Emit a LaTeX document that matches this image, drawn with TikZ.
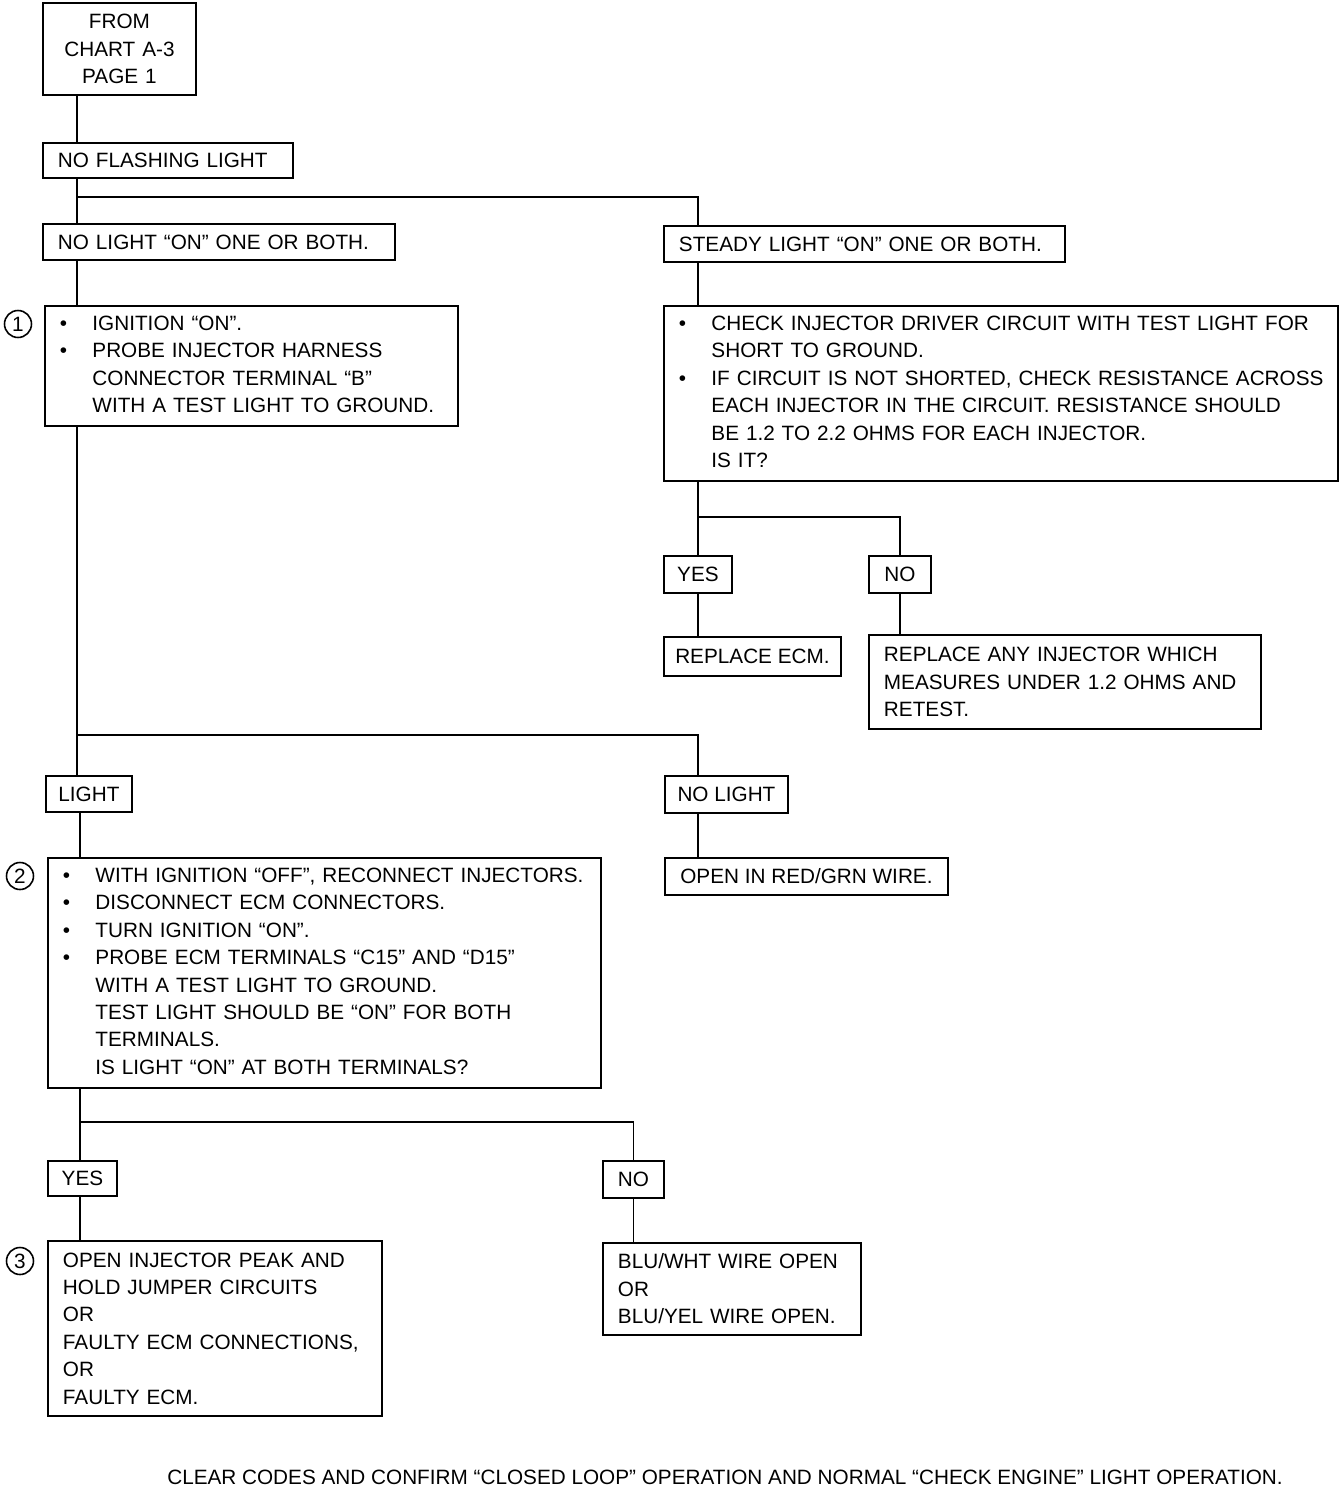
\documentclass[tikz,border=0pt]{standalone}
\usepackage{fontspec}
\setmainfont{Liberation Sans}
\newcommand{\ckSteps}[1]{\begin{tabular}{@{}p{0.65cm}@{}l@{}}#1\end{tabular}}
\tikzset{
  ckBox/.style={
    draw, line width=1.1pt, anchor=north west, inner xsep=0.3cm, inner ysep=0pt,
    align=left, font=\fontsize{11.8}{15.6}\selectfont
  },
  ckTag/.style={ckBox, align=center, inner xsep=0pt},
  ckNum/.style={
    circle, draw, line width=0.9pt, inner sep=0pt, minimum size=0.54cm,
    font=\fontsize{11.8}{14}\selectfont
  },
  ckLink/.style={line width=1pt}
}
\begin{document}
\begin{tikzpicture}[x=0.02cm, y=-0.02cm]
  \useasboundingbox (0,0) rectangle (1344,1490);

  % left column
  \node[ckBox, align=center, text width=2.46cm, minimum height=1.84cm] (from) at (42,2) {FROM\\CHART A-3\\PAGE 1};
  \node[ckBox, text width=4.40cm, minimum height=0.70cm] (noflash) at (42,142) {NO FLASHING LIGHT};
  \node[ckBox, text width=6.44cm, minimum height=0.72cm] (nolight) at (42,223) {NO LIGHT “ON” ONE OR BOTH.};
  \node[ckBox, text width=7.66cm, minimum height=2.40cm] (chk1) at (44,305) {\ckSteps{
    \textbullet & IGNITION “ON”.\\
    \textbullet & PROBE INJECTOR HARNESS\\
    & CONNECTOR TERMINAL “B”\\
    & WITH A TEST LIGHT TO GROUND.}};
  \node[ckTag, minimum width=1.72cm, minimum height=0.72cm] (light) at (45,775) {LIGHT};
  \node[ckBox, text width=10.46cm, minimum height=4.60cm] (chk2) at (47,857) {\ckSteps{
    \textbullet & WITH IGNITION “OFF”, RECONNECT INJECTORS.\\
    \textbullet & DISCONNECT ECM CONNECTORS.\\
    \textbullet & TURN IGNITION “ON”.\\
    \textbullet & PROBE ECM TERMINALS “C15” AND “D15”\\
    & WITH A TEST LIGHT TO GROUND.\\
    & TEST LIGHT SHOULD BE “ON” FOR BOTH\\
    & TERMINALS.\\
    & IS LIGHT “ON” AT BOTH TERMINALS?}};
  \node[ckTag, minimum width=1.38cm, minimum height=0.70cm] (yes2) at (47,1160) {YES};
  \node[ckTag, minimum width=1.22cm, minimum height=0.74cm] (no2) at (602,1160) {NO};
  \node[ckBox, text width=6.08cm, minimum height=3.50cm] (res3) at (47,1240) {OPEN INJECTOR PEAK AND\\HOLD JUMPER CIRCUITS\\OR\\FAULTY ECM CONNECTIONS,\\OR\\FAULTY ECM.};
  \node[ckBox, text width=4.56cm, minimum height=1.84cm] (bluw) at (602,1242) {BLU/WHT WIRE OPEN\\OR\\BLU/YEL WIRE OPEN.};

  % right column
  \node[ckBox, text width=7.42cm, minimum height=0.72cm] (steady) at (663,225) {STEADY LIGHT “ON” ONE OR BOTH.};
  \node[ckBox, text width=12.88cm, minimum height=3.50cm] (chkr) at (663,305) {\ckSteps{
    \textbullet & CHECK INJECTOR DRIVER CIRCUIT WITH TEST LIGHT FOR\\
    & SHORT TO GROUND.\\
    \textbullet & IF CIRCUIT IS NOT SHORTED, CHECK RESISTANCE ACROSS\\
    & EACH INJECTOR IN THE CIRCUIT. RESISTANCE SHOULD\\
    & BE 1.2 TO 2.2 OHMS FOR EACH INJECTOR.\\
    & IS IT?}};
  \node[ckTag, minimum width=1.36cm, minimum height=0.74cm] (yes1) at (663,555) {YES};
  \node[ckTag, minimum width=1.24cm, minimum height=0.74cm] (no1) at (868,555) {NO};
  \node[ckTag, minimum width=3.54cm, minimum height=0.78cm] (repecm) at (663,636) {REPLACE ECM.};
  \node[ckBox, text width=7.24cm, minimum height=1.88cm] (repany) at (868,634) {REPLACE ANY INJECTOR WHICH\\MEASURES UNDER 1.2 OHMS AND\\RETEST.};
  \node[ckTag, minimum width=2.46cm, minimum height=0.74cm] (nolight2) at (664,775) {NO LIGHT};
  \node[ckTag, minimum width=5.66cm, minimum height=0.74cm] (openrg) at (664,857) {OPEN IN RED/GRN WIRE.};

  % step numbers
  \node[ckNum] (n1) at (18,324) {1};
  \node[ckNum] (n2) at (20,876) {2};
  \node[ckNum] (n3) at (20,1261) {3};

  \node[font=\fontsize{11.8}{14}\selectfont] (clear) at (725,1477) {CLEAR CODES AND CONFIRM “CLOSED LOOP” OPERATION AND NORMAL “CHECK ENGINE” LIGHT OPERATION.};

  % branch points
  \coordinate (j1) at (77,197);
  \coordinate (j2) at (697,517);
  \coordinate (j3) at (77,735);
  \coordinate (j4) at (80,1122);

  \draw[ckLink, line width=1.4pt] (from.south -| j1) -- (noflash.north -| j1);
  \draw[ckLink] (noflash.south -| j1) -- (nolight.north -| j1);
  \draw[ckLink] (j1) -| (steady.north -| yes1);
  \draw[ckLink] (nolight.south -| j1) -- (chk1.north -| j1);
  \draw[ckLink] (chk1.south -| j1) -- (light.north -| j1);
  \draw[ckLink] (j3) -| (nolight2.north -| yes1);

  \draw[ckLink] (steady.south -| yes1) -- (chkr.north -| yes1);
  \draw[ckLink] (chkr.south -| yes1) -- (yes1.north);
  \draw[ckLink] (j2) -| (no1.north);
  \draw[ckLink] (yes1.south) -- (repecm.north -| yes1);
  \draw[ckLink] (no1.south) -- (repany.north -| no1);
  \draw[ckLink] (nolight2.south -| yes1) -- (openrg.north -| yes1);

  \draw[ckLink] (light.south -| j4) -- (chk2.north -| j4);
  \draw[ckLink] (chk2.south -| j4) -- (yes2.north -| j4);
  \draw[ckLink] (j4) -| (no2.north);
  \draw[ckLink] (yes2.south -| j4) -- (res3.north -| j4);
  \draw[ckLink] (no2.south) -- (bluw.north -| no2);
\end{tikzpicture}
\end{document}
